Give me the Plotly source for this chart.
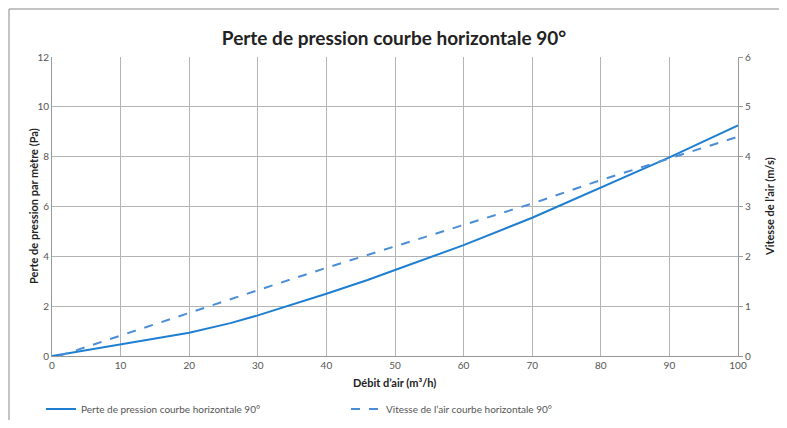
import plotly.graph_objects as go

# Data
flow_pressure = [0, 10, 20, 26, 30, 40, 46, 50, 60, 70, 80, 90, 100]
pressure = [0, 0.45, 0.93, 1.32, 1.63, 2.5, 3.05, 3.45, 4.45, 5.55, 6.75, 7.97, 9.25]
flow_velocity = [1, 10, 20, 30, 40, 50, 60, 70, 80, 90, 100]
velocity = [0, 0.41, 0.88, 1.32, 1.77, 2.2, 2.64, 3.06, 3.53, 3.96, 4.4]

title = "Perte de pression courbe horizontale 90°"
name_p = "Perte de pression courbe horizontale 90°"
name_v = "Vitesse de l’air courbe horizontale 90°"
xtitle = "Débit d’air (m³/h)"
ytitle_l = "Perte de pression par mètre (Pa)"
ytitle_r = "Vitesse de l’air (m/s)"

# page is offset by the 8px body margin; keep page within window
OFF = 8
W, H = 787 - 2 * OFF, 428 - 2 * OFF
PL, PR, PT, PB = 52, 738, 57, 356  # plot area in page pixels
L, T = PL - OFF, PT - OFF
R, B = W - (PR - OFF), H - (PB - OFF)

def px_x(p):
    return (p - PL) / (PR - PL)

def px_y(p):
    return (PB - p) / (PB - PT)

FONT = "Lato"
grid = "#b4b4b4"
tcol = "#222222"

fig = go.Figure()
fig.add_trace(go.Scatter(x=flow_pressure, y=pressure, mode="lines", name=name_p,
                         line=dict(color="#1e7fd2", width=2), yaxis="y"))
fig.add_trace(go.Scatter(x=flow_velocity, y=velocity, mode="lines", name=name_v,
                         line=dict(color="#4b8dd6", width=2, dash="dash"), yaxis="y2"))

fig.update_layout(
    width=W, height=H,
    margin=dict(l=L, r=R, t=T, b=B, autoexpand=False),
    paper_bgcolor="white", plot_bgcolor="white",
    font=dict(family=FONT, color="#555555", size=10),
    title=dict(text="<b>" + title + "</b>", xref="paper", x=px_x(394), xanchor="center",
               yref="container", y=1 - (38 - OFF) / H, yanchor="middle",
               font=dict(family=FONT, size=19, color=tcol)),
    xaxis=dict(range=[0, 100], tickvals=list(range(0, 101, 10)), automargin=False,
               showgrid=True, gridcolor=grid, gridwidth=1,
               showline=True, linecolor="#999999", linewidth=1,
               zeroline=False, ticks="", ticklen=0),
    yaxis=dict(range=[0, 12], tickvals=list(range(0, 13, 2)), automargin=False,
               showgrid=True, gridcolor=grid, gridwidth=1,
               showline=True, linecolor="#999999", linewidth=1,
               zeroline=False, ticks=""),
    yaxis2=dict(range=[0, 6], tickvals=list(range(0, 7)), overlaying="y", side="right",
                automargin=False,
                showgrid=False, showline=True, linecolor="#999999", linewidth=1,
                zeroline=False, ticks="outside", ticklen=4, tickcolor="#999999"),
    legend=dict(orientation="h", x=px_x(41), xanchor="left", y=px_y(409), yanchor="middle",
                font=dict(size=10, color="#555555"), itemwidth=30,
                tracegroupgap=0, entrywidth=260, entrywidthmode="pixels"),
    annotations=[
        dict(text="<b>" + xtitle + "</b>", xref="paper", yref="paper",
             x=px_x(394), y=px_y(382), xanchor="center", yanchor="middle",
             showarrow=False, font=dict(size=11, color=tcol)),
        dict(text="<b>" + ytitle_l + "</b>", xref="paper", yref="paper",
             x=px_x(33), y=px_y(206), xanchor="center", yanchor="middle",
             textangle=-90, showarrow=False, font=dict(size=11, color=tcol)),
        dict(text="<b>" + ytitle_r + "</b>", xref="paper", yref="paper",
             x=px_x(769), y=px_y(207), xanchor="center", yanchor="middle",
             textangle=-90, showarrow=False, font=dict(size=11, color=tcol)),
    ],
    shapes=[
        dict(type="line", xref="paper", yref="paper", x0=px_x(9), x1=px_x(790),
             y0=px_y(9), y1=px_y(9), line=dict(color="#888888", width=1)),
        dict(type="line", xref="paper", yref="paper", x0=px_x(9), x1=px_x(9),
             y0=px_y(9), y1=px_y(430), line=dict(color="#888888", width=1)),
    ],
)

fig.write_html("out.html")
